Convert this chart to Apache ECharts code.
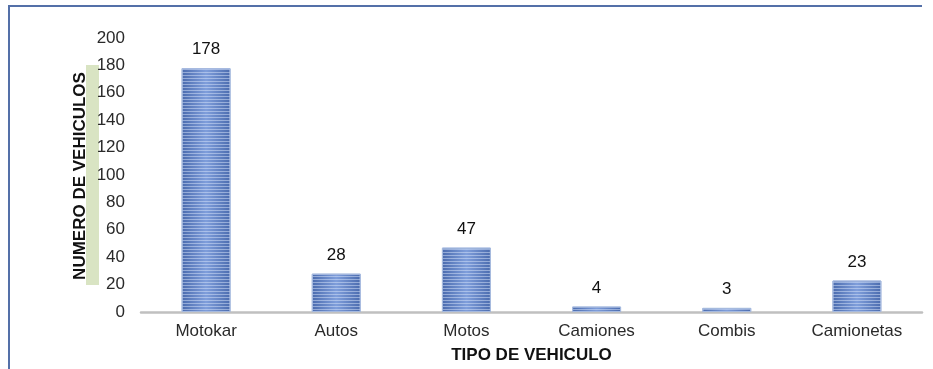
<!DOCTYPE html>
<html>
<head>
<meta charset="utf-8">
<script src="https://cdn.jsdelivr.net/npm/echarts@6/dist/echarts.min.js"></script>
<style>
  html, body { margin: 0; padding: 0; background: #fff; }
  #chart { width: 933px; height: 369px; }
</style>
</head>
<body>
<div id="chart"></div>
<script>
// Vehicle counts by type
const categories = ['Motokar', 'Autos', 'Motos', 'Camiones', 'Combis', 'Camionetas'];
const vehicleCounts = [178, 28, 47, 4, 3, 23];
const yAxisTicks = { min: 0, max: 200, interval: 20 };
const yAxisTitle = 'NUMERO DE VEHICULOS';
const xAxisTitle = 'TIPO DE VEHICULO';

const FONT = '"Liberation Sans", Arial, Helvetica, sans-serif';

const chart = echarts.init(document.getElementById('chart'), null, { renderer: 'canvas' });

const barFill = new echarts.graphic.LinearGradient(0, 0, 1, 0, [
  { offset: 0, color: '#4a6bae' },
  { offset: 0.5, color: '#7f9edb' },
  { offset: 1, color: '#4a6bae' }
]);

chart.setOption({
  animation: false,
  backgroundColor: '#ffffff',
  grid: { left: 141, right: 11, top: 38, bottom: 56 },
  xAxis: {
    type: 'category',
    data: categories,
    name: xAxisTitle,
    nameLocation: 'middle',
    nameGap: 35,
    nameTextStyle: { fontFamily: FONT, fontSize: 17, fontWeight: 'bold', color: '#111' },
    axisLine: { show: true, lineStyle: { color: '#c0c0c0', width: 2.5 } },
    axisTick: { show: false },
    axisLabel: { fontFamily: FONT, fontSize: 17, color: '#2a2a2a', margin: 11 }
  },
  yAxis: {
    type: 'value',
    min: yAxisTicks.min,
    max: yAxisTicks.max,
    interval: yAxisTicks.interval,
    axisLine: { show: false },
    axisTick: { show: false },
    splitLine: { show: false },
    axisLabel: { fontFamily: FONT, fontSize: 17, color: '#2a2a2a', margin: 16 }
  },
  graphic: [
    // light green band behind the value-axis title
    { type: 'rect', z: -1, shape: { x: 86, y: 65, width: 13, height: 220 },
      style: { fill: '#d9e4c3' } },
    // value-axis title, rotated
    { type: 'text', x: 80, y: 176, rotation: Math.PI / 2,
      style: { text: yAxisTitle, fontFamily: FONT, fontSize: 17, fontWeight: 'bold',
               fill: '#111', align: 'center', verticalAlign: 'middle' } },
    // outer frame (top and left edges)
    { type: 'polyline', shape: { points: [[9, 369], [9, 6], [922, 6]] },
      style: { stroke: '#5470a8', lineWidth: 2, fill: null } }
  ],
  series: [{
    type: 'bar',
    data: vehicleCounts,
    barWidth: 49,
    itemStyle: {
      color: barFill,
      borderColor: '#a6badf',
      borderWidth: 1,
      decal: {
        symbol: 'rect',
        symbolSize: 1,
        color: 'rgba(215,228,250,0.5)',
        dashArrayX: [1, 0],
        dashArrayY: [1, 2],
        rotation: 0
      }
    },
    label: {
      show: true,
      position: 'top',
      distance: 10,
      fontFamily: FONT,
      fontSize: 17,
      color: '#111'
    }
  }]
});
</script>
</body>
</html>
